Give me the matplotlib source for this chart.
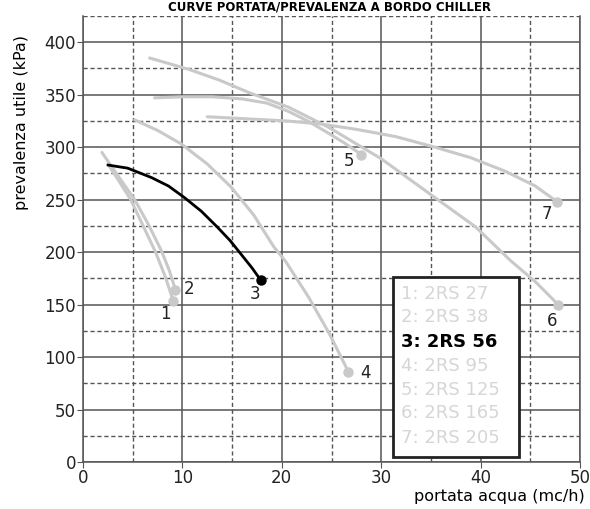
import matplotlib
matplotlib.use("Agg")
import matplotlib.pyplot as plt
from matplotlib.patches import Rectangle

# ---- data ----
c1_x = [2.5, 3.6, 4.8, 6.0, 7.3, 8.3, 9.1]
c1_y = [284, 268, 250, 226, 200, 176, 153]
c2_x = [1.9, 3.5, 5.2, 6.6, 7.9, 8.7, 9.3]
c2_y = [295, 273, 250, 226, 201, 182, 164]
c3_x = [2.5, 4.5, 6.9, 8.6, 10.2, 11.9, 13.5, 14.8, 15.9, 17.0, 17.9]
c3_y = [283, 280, 271, 263, 252, 239, 224, 211, 198, 185, 173]
c4_x = [5.2, 7.5, 9.9, 12.5, 14.9, 17.2, 19.2, 20.4, 22.7, 24.8, 26.7]
c4_y = [326, 316, 303, 284, 262, 235, 205, 191, 157, 122, 86]
c5_x = [7.2, 10.0, 13.0, 16.0, 18.5, 20.7, 22.6, 24.4, 26.3, 28.0]
c5_y = [347, 348, 348, 346, 342, 334, 325, 315, 304, 293]
c6_x = [6.7, 10.7, 13.7, 16.7, 20.7, 24.7, 30.0, 35.4, 39.5, 43.0, 45.6, 47.8]
c6_y = [385, 374, 364, 352, 338, 319, 289, 252, 224, 192, 171, 150]
c7_x = [12.5, 16.5, 20.5, 24.0, 27.5, 31.5, 35.4, 39.0, 42.5, 45.5, 47.7]
c7_y = [329, 327, 325, 322, 317, 310, 300, 290, 277, 263, 248]

curve_labels = ["1", "2", "3", "4", "5", "6", "7"]
label_x = [8.3, 10.7, 17.3, 28.4, 26.8, 47.2, 46.7]
label_y = [141, 165, 160, 85, 287, 134, 236]

legend_entries = ["1: 2RS 27", "2: 2RS 38", "3: 2RS 56", "4: 2RS 95",
                  "5: 2RS 125", "6: 2RS 165", "7: 2RS 205"]

x_ticks = [0, 10, 20, 30, 40, 50]
y_ticks = [0, 50, 100, 150, 200, 250, 300, 350, 400]

title = "CURVE PORTATA/PREVALENZA A BORDO CHILLER"
xlabel = "portata acqua (mc/h)"
ylabel = "prevalenza utile (kPa)"

# ---- figure ----
plt.rcParams['font.family'] = ['DejaVu Sans']
fig = plt.figure(figsize=(5.9, 5.09), dpi=100)
ax = fig.add_axes([83/590, 1-462/509, (580-83)/590, (462-16)/509])
ax.set_xlim(0, 50)
ax.set_ylim(0, 425)

grid_col = "#555555"
ax.set_xticks(x_ticks)
ax.set_yticks(y_ticks)
ax.set_xticks([5, 15, 25, 35, 45], minor=True)
ax.set_yticks([25, 75, 125, 175, 225, 275, 325, 375, 425], minor=True)
ax.grid(which='major', color=grid_col, lw=1.1, ls='-')
ax.grid(which='minor', color=grid_col, lw=1.0, ls=(0, (3, 2)))
ax.tick_params(which='minor', length=0)
ax.tick_params(which='major', length=4, color=grid_col, labelsize=12, pad=1,
               labelcolor="#222222")
ax.spines['top'].set_visible(False)
for s in ['left', 'bottom', 'right']:
    ax.spines[s].set_color(grid_col)
    ax.spines[s].set_linewidth(1.1)

gray = "#c9c9c9"
curves = [(c1_x, c1_y), (c2_x, c2_y), (c3_x, c3_y), (c4_x, c4_y),
          (c5_x, c5_y), (c6_x, c6_y), (c7_x, c7_y)]
for i, (xs, ys) in enumerate(curves):
    col = "black" if i == 2 else gray
    lw = 2.0 if i == 2 else 2.2
    ax.plot(xs, ys, color=col, lw=lw, solid_capstyle='round', zorder=3)
    ax.plot(xs[-1], ys[-1], 'o', color=col, ms=6.5, zorder=4)
    ax.text(label_x[i], label_y[i], curve_labels[i], fontsize=12,
            color="#222222", ha='center', va='center', zorder=5)

# legend box
ax.add_patch(Rectangle((31.2, 5), 43.9-31.2, 176-5, facecolor='white',
                       edgecolor='#222222', lw=2, zorder=6))
leg_y_px = [293.3, 316.7, 341.7, 366, 390, 413.3, 438.3]
for i, t in enumerate(legend_entries):
    yv = (462 - leg_y_px[i]) / 1.052
    if i == 2:
        ax.text(32.0, yv, t, fontsize=13, fontweight='bold', color='black',
                va='center', ha='left', zorder=7)
    else:
        ax.text(32.0, yv, t, fontsize=13, color='#d6d6d6',
                va='center', ha='left', zorder=7)

fig.text(330/590, 1 - 1/509, title, fontsize=8.5, fontweight='bold',
         ha='center', va='top')
fig.text(22/590, 1-122/509, ylabel, rotation=90, fontsize=11.5,
         ha='center', va='center')
fig.text(585/590, 1-497/509, xlabel, fontsize=11.5, ha='right', va='center')

fig.savefig("out.png", dpi=100)
